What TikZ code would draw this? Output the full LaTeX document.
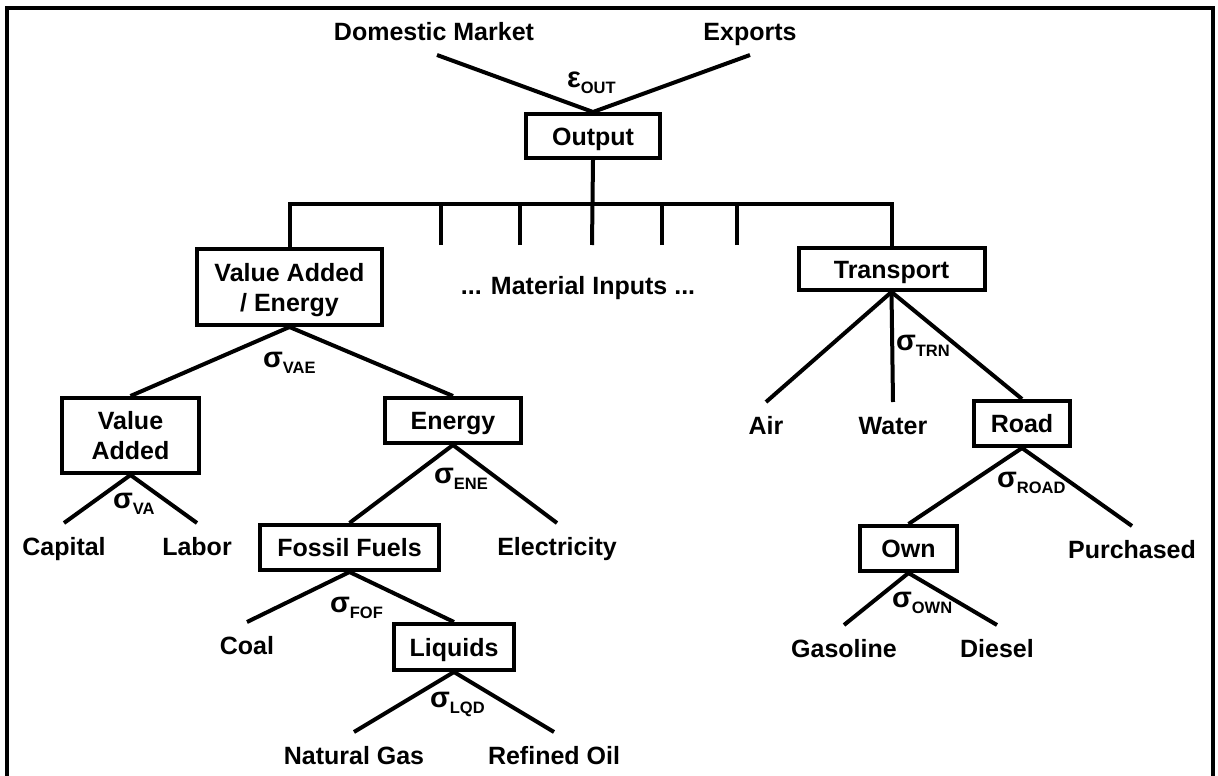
\documentclass[tikz,border=0pt]{standalone}
\usepackage{fontspec}
\setmainfont{Liberation Sans}
\newcommand{\labfont}{\fontsize{25}{30}\selectfont\bfseries}
% elasticity symbol with its subscript
\newcommand{\elast}[2]{{\fontsize{29}{29}\selectfont#1}\raisebox{-6pt}{\fontsize{16.5}{16.5}\selectfont#2}}
\begin{document}
\begin{tikzpicture}[x=1pt, y=-1pt, line width=4pt,
  box/.style={draw, line width=4pt, inner sep=0pt, font=\labfont, align=center,
              text height=18pt, text depth=0pt},
  twoline/.style={text height=48pt},
  leaf/.style={inner xsep=0pt, inner ysep=12pt, font=\labfont,
               text height=18pt, text depth=0pt, anchor=base},
  elas/.style={inner sep=0pt, anchor=base west, font=\labfont},
  link/.style={line width=4pt}]
\useasboundingbox (0,0) rectangle (1218,776);

% outer frame (open at the bottom)
\draw[line width=4pt] (7,776) -- (7,8) -- (1213,8) -- (1213,776);

% boxes
\node[box, minimum width=134pt, minimum height=44pt] (out)  at (593,136)     {Output};
\node[box, twoline, minimum width=185pt, minimum height=76pt] (vae)  at (289.5,287)   {Value Added\\/ Energy};
\node[box, minimum width=186pt, minimum height=42pt] (trn)  at (891.5,269)   {Transport};
\node[box, twoline, minimum width=137pt, minimum height=75pt] (vab)  at (130.5,435.5) {Value\\Added};
\node[box, minimum width=136pt, minimum height=45pt] (ene)  at (453,420.5)   {Energy};
\node[box, minimum width=179pt, minimum height=45pt] (fos)  at (349.5,547.5) {Fossil Fuels};
\node[box, minimum width=120pt, minimum height=46pt] (lqd)  at (454,647)     {Liquids};
\node[box, minimum width=96pt,  minimum height=45pt] (road) at (1022,423.5)  {Road};
\node[box, minimum width=97pt,  minimum height=45pt] (own)  at (908.5,548.5) {Own};

% plain labels
\node[leaf] (dom)  at (434,41)  {Domestic Market};
\node[leaf] (exp)  at (750,41)  {Exports};
\node[leaf] (mat)  at (578,294) {... Material Inputs ...};
\node[leaf] (cap)  at (64,555)  {Capital};
\node[leaf] (lab)  at (197,555) {Labor};
\node[leaf] (ele)  at (557,555) {Electricity};
\node[leaf] (coal) at (247,654) {Coal};
\node[leaf] (ngas) at (354,764) {Natural Gas};
\node[leaf] (roil) at (554,764) {Refined Oil};
\node[leaf] (air)  at (766,434) {Air};
\node[leaf] (wat)  at (893,434) {Water};
\node[leaf] (pur)  at (1132,558) {Purchased};
\node[leaf] (gas)  at (844,657) {Gasoline};
\node[leaf] (die)  at (997,657) {Diesel};

% elasticities
\node[elas] (eout) at (565,87)  {\elast{ε}{OUT}};
\node[elas] (svae) at (261,367) {\elast{σ}{VAE}};
\node[elas] (sva)  at (111,508) {\elast{σ}{VA}};
\node[elas] (sene) at (432,483) {\elast{σ}{ENE}};
\node[elas] (sfof) at (328,612) {\elast{σ}{FOF}};
\node[elas] (slqd) at (428,707) {\elast{σ}{LQD}};
\node[elas] (strn) at (894,350) {\elast{σ}{TRN}};
\node[elas] (sroa) at (995,487) {\elast{σ}{ROAD}};
\node[elas] (sown) at (890,607) {\elast{σ}{OWN}};

% output split
\draw[link] (out.north) -- ([xshift=3pt]dom.south);
\draw[link] (out.north) -- (exp.south);

% input bus
\coordinate (bus) at (592,204);
\coordinate (t1) at (441,245);
\coordinate (t2) at (520,245);
\coordinate (t3) at (592,245);
\coordinate (t4) at (662,245);
\coordinate (t5) at (737,245);
\draw[link] (vae.north) -- (vae.north |- bus) -- (trn.north |- bus) -- (trn.north);
\draw[link] (out.south) -- (t3);
\foreach \t in {t1,t2,t4,t5} \draw[link] (\t) -- (\t |- bus);

% value added / energy nest
\draw[link] (vae.south) -- (vab.north);
\draw[link] (vae.south) -- (ene.north);
\draw[link] (vab.south) -- (cap.north);
\draw[link] (vab.south) -- (lab.north);
\draw[link] (ene.south) -- (fos.north);
\draw[link] (ene.south) -- (ele.north);
\draw[link] (fos.south) -- (coal.north);
\draw[link] (fos.south) -- (lqd.north);
\draw[link] (lqd.south) -- (ngas.north);
\draw[link] (lqd.south) -- (roil.north);

% transport nest
\draw[link] (trn.south) -- (air.north);
\draw[link] (trn.south) -- (wat.north);
\draw[link] (trn.south) -- (road.north);
\draw[link] (road.south) -- (own.north);
\draw[link] (road.south) -- (pur.north);
\draw[link] (own.south) -- (gas.north);
\draw[link] (own.south) -- (die.north);
\end{tikzpicture}
\end{document}
